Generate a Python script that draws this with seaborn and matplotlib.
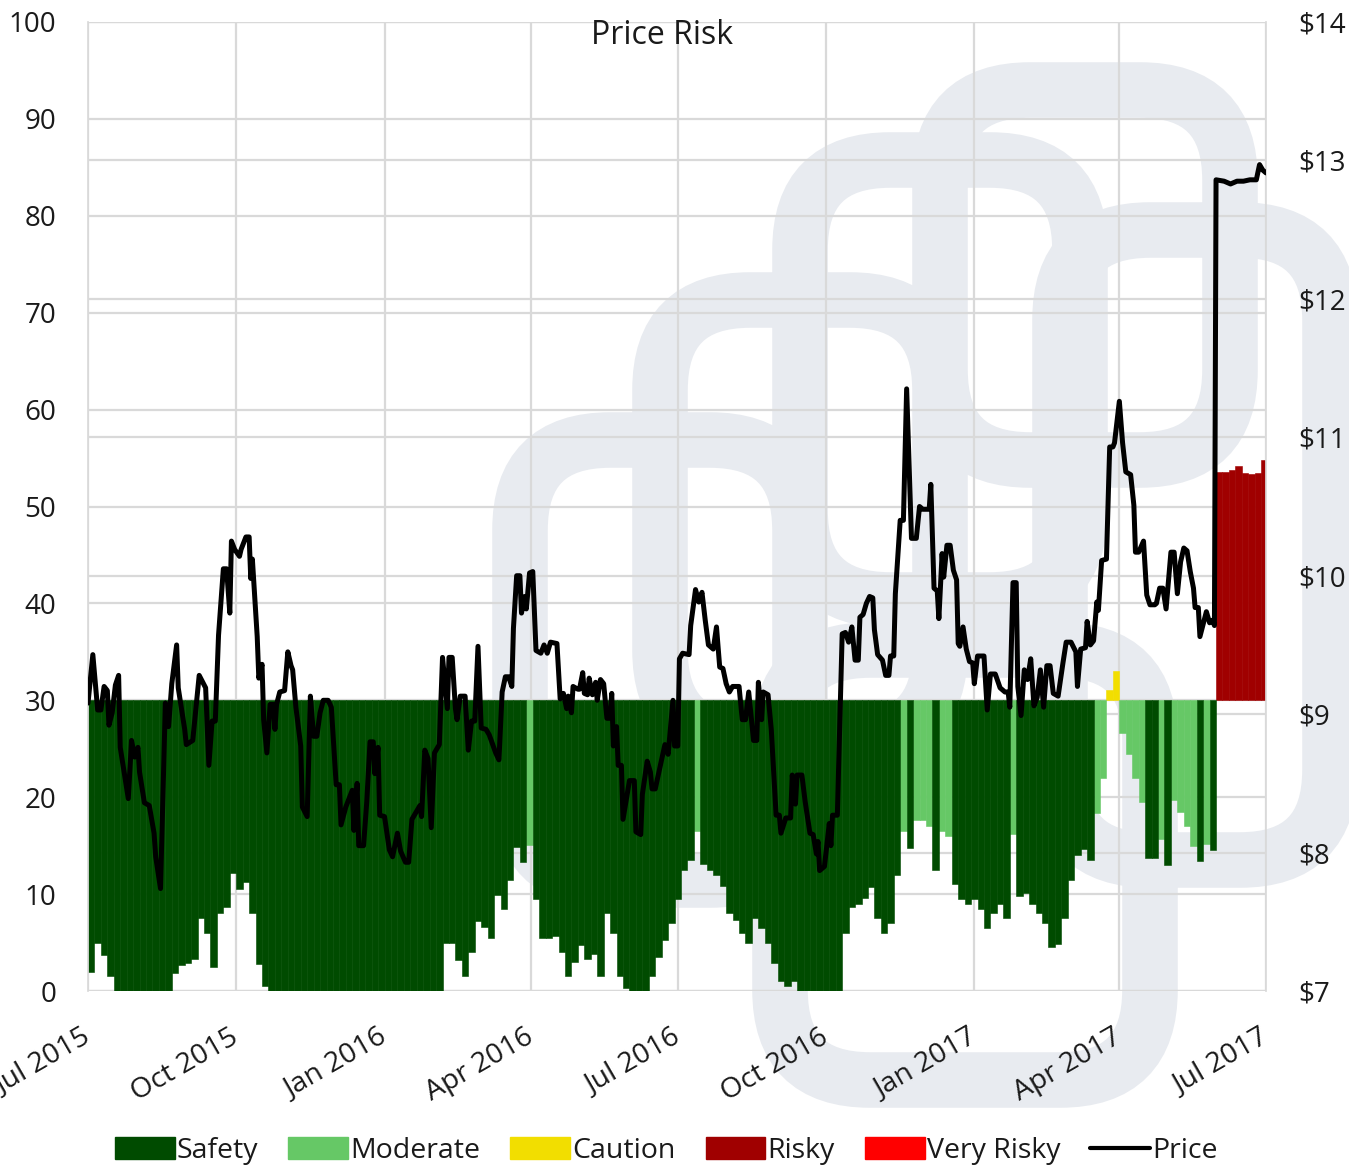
import pandas as pd
import numpy as np
import matplotlib.pyplot as plt
import matplotlib.patches as mpatches
import matplotlib.transforms as mtransforms
from matplotlib.lines import Line2D
import seaborn as sns

sns.set_theme(style="white")
plt.rcParams["font.family"] = ["Open Sans", "DejaVu Sans"]

# Risk bars: one value every 4 days from 1 Jul 2015, drawn from the 30 line to the value.
risk_values = [
    2.0, 5.0, 3.7, 1.5, 0, 0, 0, 0, 0, 0, 0, 0, 0, 1.9, 2.7, 2.9, 3.3, 7.5, 6.0, 2.5,
    8.0, 8.7, 12.2, 10.5, 11.2, 8.0, 2.8, 0.5, 0, 0, 0, 0, 0, 0, 0, 0, 0, 0,
    0, 0, 0, 0, 0, 0, 0, 0, 0, 0, 0, 0, 0, 0, 0, 0, 0, 5.0, 5.0, 3.2, 1.5, 4.0,
    7.2, 6.6, 5.5, 9.9, 8.5, 11.5, 14.9, 13.3, 15.1, 9.5, 5.5, 5.5, 5.7, 4.0, 1.5, 3.0, 4.7, 3.3, 3.8, 1.5,
    8.0, 6.0, 1.5, 0.3, 0, 0, 0, 1.5, 3.5, 5.3, 7.0, 9.5, 12.5, 13.5, 16.5, 13.1, 12.5, 12.0, 10.8, 8.0,
    7.3, 6.0, 5.0, 7.5, 6.5, 5.0, 2.9, 1.0, 0.5, 1.0, 0, 0, 0, 0, 0, 0, 0, 6.0, 8.7, 9.0,
    9.6, 10.7, 7.5, 6.0, 7.0, 12.0, 16.5, 14.8, 17.6, 17.6, 17.0, 12.5, 16.5, 16.0, 11.0, 9.5, 9.0, 9.5, 8.5, 6.5,
    8.0, 9.0, 7.5, 16.2, 9.8, 10.1, 9.0, 8.0, 7.0, 4.5, 4.8, 7.5, 11.5, 14.0, 14.7, 13.5, 18.4, 22.0, 31.1, 33.0,
    26.6, 24.5, 22.0, 19.5, 13.7, 13.7, 15.7, 13.0, 19.7, 18.5, 17.0, 15.0, 13.4, 15.2, 14.5, 53.6, 53.6, 53.8, 54.2, 53.5,
    53.4, 53.5, 54.8,
]
risk_codes = (
    "SSSSSSSSSSSSSSSSSSSS"
    "SSSSSSSSSSSSSSSSSS"
    "SSSSSSSSSSSSSSSSSSSSSS"
    "SSSSSSSSMSSSSSSSSSSS"
    "SSSSSSSSSSSSSSMSSSSS"
    "SSSSSSSSSSSSSSSSSSSS"
    "SSSSSSMSMMMSMMSSSSSS"
    "SSSMSSSSSSSSSSSSMMCC"
    "MMMMSSMSMMMMSMSRRRRR"
    "RRR"
)
category_names = {"S": "Safety", "M": "Moderate", "C": "Caution", "R": "Risky", "V": "Very Risky"}
palette = {"Safety": "#004b00", "Moderate": "#66c866", "Caution": "#f2de00",
           "Risky": "#a00000", "Very Risky": "#ff0000"}

# Price: (day after 1 Jul 2015, $)
price_days = [
    0, 3, 6, 8, 10, 12, 13, 15, 17, 19, 20, 25, 27, 29, 31, 32, 35, 38, 41, 42, 45, 48, 50, 52, 55, 56,
    60, 61, 65, 69, 73, 75, 77, 79, 81, 84, 86, 88, 89, 91, 94, 95, 98, 100, 101, 102, 105, 106, 108,
    109, 111, 113, 115, 116, 117, 119, 122, 124, 126, 127, 129, 132, 133, 136, 138, 140, 142, 144, 146,
    149, 151, 154, 156, 157, 160, 161, 164, 165, 167, 168, 171, 173, 175, 177, 178, 180, 181, 184, 187,
    189, 192, 194, 197, 199, 201, 204, 206, 207, 209, 211, 213, 215, 218, 220, 223, 224, 226, 228, 229,
    231, 234, 236, 238, 240, 242, 244, 247, 249, 253, 255, 257, 259, 261, 263, 264, 266, 268, 269, 271,
    272, 274, 276, 278, 281, 283, 285, 287, 291, 293, 295, 297, 298, 300, 301, 304, 305, 307, 308, 310,
    311, 313, 315, 316, 318, 320, 322, 324, 325, 326, 328, 329, 331, 332, 334, 336, 339, 340, 343, 344,
    347, 349, 350, 352, 355, 358, 360, 363, 364, 366, 367, 369, 373, 374, 377, 379, 381, 383, 385, 388,
    390, 392, 394, 396, 398, 400, 404, 406, 408, 410, 413, 415, 416, 418, 419, 422, 424, 427, 429, 430,
    433, 436, 437, 439, 440, 443, 445, 448, 450, 452, 453, 454, 457, 460, 461, 462, 465, 468, 470, 472,
    474, 476, 478, 479, 481, 483, 485, 487, 488, 490, 493, 495, 497, 498, 500, 501, 504, 506, 508, 511,
    514, 516, 518, 522, 523, 525, 527, 528, 530, 531, 533, 535, 537, 539, 540, 541, 543, 545, 547, 549,
    550, 552, 556, 558, 560, 563, 566, 569, 571, 572, 574, 576, 577, 579, 581, 583, 585, 587, 589, 591,
    593, 595, 597, 599, 602, 605, 607, 610, 613, 614, 616, 619, 620, 622, 624, 626, 627, 629, 632, 634,
    636, 637, 640, 642, 644, 647, 649, 650, 652, 655, 657, 659, 662, 663, 665, 667, 669, 672, 674, 676,
    678, 680, 682, 684, 686, 687, 689, 690, 692, 694, 696, 698, 699, 700, 705, 709, 713, 717, 721, 725,
    727, 729, 731,
]
price_values = [
    9.08, 9.43, 9.03, 9.03, 9.20, 9.17, 8.92, 9.01, 9.21, 9.28, 8.76, 8.39, 8.81, 8.69, 8.76, 8.58, 8.36, 8.34, 8.14, 7.97, 7.74, 9.08, 8.91, 9.22, 9.50, 9.19,
    8.89, 8.78, 8.81, 9.28, 9.19, 8.63, 8.95, 8.95, 9.57, 10.05, 10.05, 9.73, 10.25, 10.19, 10.14, 10.19, 10.28, 10.28, 9.98, 10.12, 9.56, 9.26, 9.36,
    8.96, 8.72, 9.07, 9.07, 8.89, 9.07, 9.16, 9.17, 9.45, 9.35, 9.32, 9.05, 8.77, 8.33, 8.26, 9.13, 8.84, 8.84, 9.01, 9.10,
    9.10, 9.05, 8.49, 8.49, 8.20, 8.33, 8.36, 8.45, 8.16, 8.50, 8.05, 8.05, 8.37, 8.80, 8.80, 8.57, 8.76, 8.27, 8.26, 8.02,
    7.97, 8.14, 8.01, 7.93, 7.93, 8.24, 8.30, 8.34, 8.26, 8.74, 8.68, 8.18, 8.72, 8.78, 9.41, 9.04, 9.41, 9.41, 9.04, 8.96,
    9.13, 9.13, 8.74, 8.95, 8.95, 9.49, 8.90, 8.89, 8.85, 8.72, 8.67, 9.16, 9.27, 9.27, 9.20, 9.62, 10.00, 10.00, 9.73, 9.85,
    9.76, 10.02, 10.03, 9.46, 9.44, 9.50, 9.44, 9.52, 9.51, 9.11, 9.15, 9.04, 9.13, 9.01, 9.20, 9.18, 9.18, 9.30, 9.15, 9.14,
    9.26, 9.14, 9.23, 9.10, 9.25, 9.22, 8.97, 8.97, 9.15, 8.77, 8.91, 8.63, 8.63, 8.24, 8.38, 8.52, 8.52, 8.15, 8.13, 8.42,
    8.66, 8.58, 8.46, 8.46, 8.62, 8.78, 8.71, 9.10, 8.77, 8.77, 9.40, 9.44, 9.43, 9.64, 9.90, 9.81, 9.88, 9.68, 9.50, 9.47,
    9.63, 9.34, 9.33, 9.22, 9.16, 9.20, 9.20, 8.96, 8.96, 9.16, 8.81, 8.81, 9.23, 8.96, 9.16, 9.14, 8.89, 8.27, 8.27, 8.14,
    8.25, 8.25, 8.56, 8.35, 8.56, 8.56, 8.37, 8.14, 8.13, 7.99, 8.08, 7.87, 7.90, 8.21, 8.05, 8.27, 8.27, 9.58, 9.59, 9.52,
    9.63, 9.39, 9.39, 9.70, 9.72, 9.80, 9.85, 9.84, 9.61, 9.43, 9.39, 9.28, 9.28, 9.42, 9.42, 9.87, 10.40, 10.40, 11.35, 10.27,
    10.27, 10.50, 10.48, 10.48, 10.66, 9.91, 9.89, 9.69, 10.16, 9.99, 10.22, 10.22, 10.04, 9.97, 9.51, 9.49, 9.63, 9.47, 9.38, 9.37,
    9.22, 9.42, 9.42, 9.03, 9.29, 9.29, 9.19, 9.16, 9.16, 9.05, 9.95, 9.95, 9.20, 8.99, 9.32, 9.25, 9.40, 9.06, 9.12, 9.32,
    9.05, 9.35, 9.35, 9.15, 9.13, 9.37, 9.52, 9.52, 9.45, 9.20, 9.47, 9.48, 9.67, 9.50, 9.53, 9.81, 9.75, 10.11, 10.12, 10.93,
    10.93, 10.96, 11.26, 10.96, 10.75, 10.73, 10.51, 10.17, 10.17, 10.25, 9.86, 9.79, 9.79, 9.80, 9.91, 9.91, 9.76, 10.17, 10.17, 9.87,
    10.10, 10.20, 10.18, 10.03, 9.91, 9.77, 9.77, 9.56, 9.65, 9.74, 9.66, 9.68, 9.64, 12.86, 12.85, 12.83, 12.85, 12.85, 12.86, 12.86,
    12.97, 12.93, 12.91,
]

quarter_ticks = ["2015-07-01", "2015-10-01", "2016-01-01", "2016-04-01", "2016-07-01",
                 "2016-10-01", "2017-01-01", "2017-04-01", "2017-07-01"]
quarter_labels = ["Jul 2015", "Oct 2015", "Jan 2016", "Apr 2016", "Jul 2016",
                  "Oct 2016", "Jan 2017", "Apr 2017", "Jul 2017"]
left_ticks = [0, 10, 20, 30, 40, 50, 60, 70, 80, 90, 100]
right_ticks = [7, 8, 9, 10, 11, 12, 13, 14]

start = pd.Timestamp("2015-07-01")
bars = pd.DataFrame({
    "date": pd.date_range(start, periods=len(risk_values), freq="4D"),
    "risk": risk_values,
    "category": [category_names[c] for c in risk_codes],
})
price = pd.DataFrame({"date": start + pd.to_timedelta(price_days, unit="D"), "price": price_values})

W, H = 1349, 1171
grid_c = "#d9d9d9"
text_c = "#1a1a1a"
fig = plt.figure(figsize=(W / 100, H / 100), dpi=100)

# faint background logo
logo_c = "#e8ebf0"
for x0, y0, x1, y1 in [(520, 440, 800, 880), (660, 300, 940, 740), (800, 160, 1080, 600),
                       (940, 90, 1230, 460), (780, 650, 1150, 1080), (1060, 230, 1330, 860)]:
    p = mpatches.FancyBboxPatch((x0, H - y1), x1 - x0, y1 - y0,
                                boxstyle="round,pad=0,rounding_size=90",
                                fill=False, edgecolor=logo_c, linewidth=40,
                                transform=mtransforms.IdentityTransform(), zorder=-5)
    fig.add_artist(p)

ax = fig.add_axes([88 / W, 1 - 991 / H, 1178 / W, 969 / H])
ax.set_facecolor("none")
ax2 = ax.twinx()

for cat, grp in bars.groupby("category"):
    ax.bar(grp["date"], grp["risk"] - 30, bottom=30, width=4, align="edge",
           color=palette[cat], edgecolor=palette[cat], linewidth=0.4, zorder=2)

sns.lineplot(data=price, x="date", y="price", ax=ax2, color="black",
             linewidth=3.6, estimator=None)

ax.set_ylim(0, 100)
ax2.set_ylim(7, 14)
ax.set_xlim(pd.Timestamp(quarter_ticks[0]), pd.Timestamp(quarter_ticks[-1]))
ax.set_xticks(pd.to_datetime(quarter_ticks))
ax.set_xticklabels(quarter_labels)
ax.set_yticks(left_ticks)
ax2.set_yticks(right_ticks)
ax2.set_yticklabels([f"${v}" for v in right_ticks])

ax.set_axisbelow(True)
ax.grid(True, color=grid_c, linewidth=1.6)
ax2.grid(False)
blend = mtransforms.blended_transform_factory(ax.transAxes, ax2.transData)
for v in right_ticks:
    ax.plot([0, 1], [v, v], transform=blend, color=grid_c, linewidth=1.6, zorder=0.6)

for a in (ax, ax2):
    for s in a.spines.values():
        s.set_visible(False)
ax.spines["left"].set_visible(True)
ax.spines["left"].set_color(grid_c)
ax.spines["right"].set_visible(True)
ax.spines["right"].set_color(grid_c)
ax.set_xlabel("")
ax.set_ylabel("")
ax2.set_xlabel("")
ax2.set_ylabel("")

ax.tick_params(axis="y", length=0, pad=23, labelsize=20, labelcolor=text_c)
ax2.tick_params(axis="y", length=0, pad=23, labelsize=20, labelcolor=text_c)
ax.tick_params(axis="x", length=0, pad=32, labelsize=20.5, labelcolor=text_c)
plt.setp(ax.get_xticklabels(), rotation=30, ha="right", va="center", rotation_mode="anchor")

fig.text(662 / W, 1 - 36 / H, "Price Risk", ha="center", va="center", fontsize=23, color=text_c)

handles = [mpatches.Patch(color=palette[k], label=k) for k in palette]
handles.append(Line2D([], [], color="black", linewidth=3, label="Price"))
fig.legend(handles=handles, loc="center", bbox_to_anchor=(0.494, 0.017), ncol=6, frameon=False,
           fontsize=20.5, handlelength=2.1, handleheight=0.8, handletextpad=0.08,
           columnspacing=1.05, labelcolor=text_c)

fig.savefig("out.png", dpi=100)
